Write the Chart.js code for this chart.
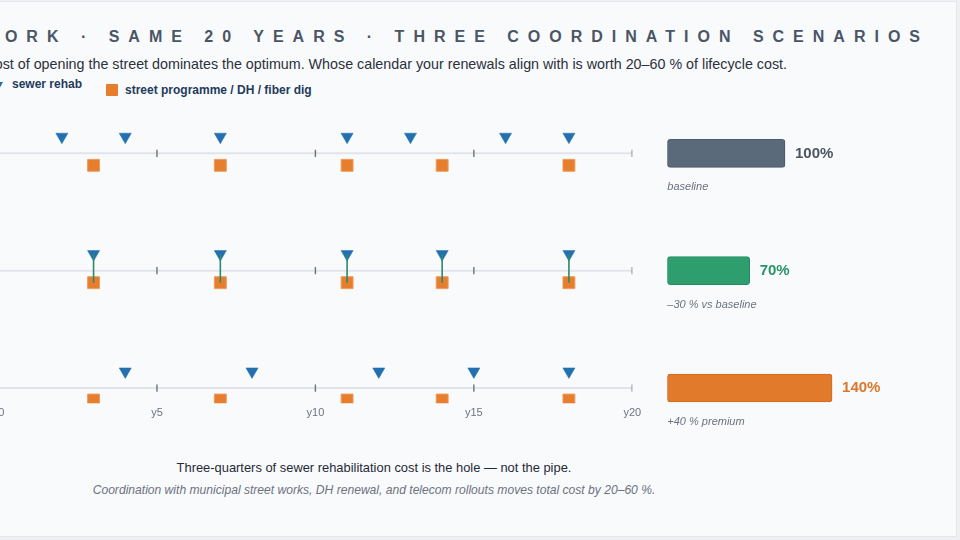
<!DOCTYPE html>
<html>
<head>
<meta charset="utf-8">
<script src="https://cdn.jsdelivr.net/npm/chart.js@4.4.1/dist/chart.umd.min.js"></script>
<style>
  html, body { margin:0; padding:0; }
  body { width:960px; height:540px; overflow:hidden; position:relative; background:#eef0f3;
         font-family:'Liberation Sans', Arial, Helvetica, sans-serif; }
  .card { position:absolute; left:-400px; top:1px; width:1357px; height:536px; background:#f9fafc;
          border:1px solid #e4e7eb; box-sizing:border-box; }
  .txt { position:absolute; white-space:nowrap; }
  #title { right:31px; top:27px; font-size:16px; line-height:20px; font-weight:bold; letter-spacing:9px; color:#4a5565; }
  #sub { right:173px; top:53.5px; font-size:14.3px; line-height:20px; color:#2b313b; }
  .leg { font-size:12px; line-height:16px; font-weight:bold; color:#1f3a5c; }
  #legTri { position:absolute; left:-7.5px; top:82px; width:0; height:0;
            border-left:5.5px solid transparent; border-right:5.5px solid transparent; border-top:9px solid #2370b0; }
  #legSq { position:absolute; left:106px; top:84px; width:12px; height:12px; background:#e67e2e; border-radius:1px; }
  #foot1 { left:-226px; width:1200px; text-align:center; top:460px; font-size:12.9px; line-height:16px; color:#1f2937; }
  #foot2 { left:-226px; width:1200px; text-align:center; top:482px; font-size:12.1px; line-height:16px; font-style:italic; color:#6b7280; }
  #tl { position:absolute; left:-22px; top:100px; width:676px; height:328px; }
  #bars { position:absolute; left:660px; top:90px; width:260px; height:360px; }
</style>
</head>
<body>
<div class="card"></div>
<div class="txt" id="title">ONE NETWORK · SAME 20 YEARS · THREE COORDINATION SCENARIOS</div>
<div class="txt" id="sub">The cost of opening the street dominates the optimum. Whose calendar your renewals align with is worth 20–60 % of lifecycle cost.</div>
<div id="legTri"></div>
<div class="txt leg" style="left:12px; top:76px;">sewer rehab</div>
<div id="legSq"></div>
<div class="txt leg" style="left:125px; top:82px;">street programme / DH / fiber dig</div>
<div class="txt" id="foot1">Three-quarters of sewer rehabilitation cost is the hole — not the pipe.</div>
<div class="txt" id="foot2">Coordination with municipal street works, DH renewal, and telecom rollouts moves total cost by 20–60 %.</div>
<div id="tl"><canvas id="tlc"></canvas></div>
<div id="bars"><canvas id="barc"></canvas></div>
<script>
// ---- data ----
const scenarios = ['baseline', 'coordinated', 'misaligned'];
const axisTicks = [0, 5, 10, 15, 20];
const streetWorks = [3, 7, 11, 14, 18];
const sewerBaseline = [2, 4, 7, 11, 13, 16, 18];
const sewerCoordinated = [3, 7, 11, 14, 18];
const sewerMisaligned = [4, 8, 12, 15, 18];
const costIndex = [100, 70, 140];
const costLabels = ['100%', '70%', '140%'];
const costNotes = ['baseline', '–30 % vs baseline', '+40 % premium'];

// ---- styles ----
const FONT = "'Liberation Sans', Arial, Helvetica, sans-serif";
Chart.defaults.font.family = FONT;
const BLUE = '#2370b0', ORANGE = '#e67e2e', GREEN_LINE = '#2a8a6a';
const barFill = ['#5a6a7b', '#2e9e6e', '#e27a2b'];
const barEdge = ['#4c5a69', '#27895f', '#cf6c22'];
const labelColor = ['#4b5563', '#2a9467', '#dc772a'];
const TRI_OFF = -0.1415, SQ_OFF = 0.1023;

const sewerRows = [sewerBaseline, sewerCoordinated, sewerMisaligned];
const ds = [];
sewerRows.forEach((sewer, r) => {
  ds.push({ data: [{x: axisTicks[0], y: r}, {x: axisTicks[axisTicks.length - 1], y: r}], showLine: true,
            borderColor: '#e1e5ea', borderWidth: 2, pointRadius: 0, order: 10 });
  ds.push({ data: axisTicks.map(x => ({x, y: r})), pointStyle: 'line', pointRotation: 90, pointRadius: 3.6,
            pointBorderColor: '#6b7280', pointBorderWidth: 1.4, order: 9 });
  ds.push({ data: streetWorks.map(x => ({x, y: r + SQ_OFF})), pointStyle: 'rect', pointRadius: 8.4,
            pointBackgroundColor: ORANGE, pointBorderColor: '#ee9a5a', pointBorderWidth: 1, order: 5 });
  ds.push({ data: sewer.map(x => ({x, y: r + TRI_OFF})), pointStyle: 'triangle', pointRotation: 180, pointRadius: 7,
            pointBackgroundColor: BLUE, pointBorderColor: BLUE, pointBorderWidth: 0.5, order: 4 });
});
// connectors where sewer rehab aligns with street works (coordinated scenario)
sewerCoordinated.filter(x => streetWorks.includes(x)).forEach(x => {
  ds.push({ data: [{x, y: 1 + TRI_OFF}, {x, y: 1 + SQ_OFF}], showLine: true, borderColor: GREEN_LINE,
            borderWidth: 1.6, pointRadius: 0, order: 2 });
});

new Chart(document.getElementById('tlc'), {
  type: 'scatter',
  data: { datasets: ds },
  options: {
    responsive: true, maintainAspectRatio: false, animation: false, events: [],
    layout: { padding: { left: 20.5, right: 21.7, top: 18.1, bottom: 0.7 } },
    plugins: { legend: { display: false }, tooltip: { enabled: false } },
    scales: {
      x: { type: 'linear', min: 0, max: 20,
           grid: { display: false, drawTicks: false }, border: { display: false },
           ticks: { stepSize: 5, padding: 3, color: '#6b7280', font: { size: 11 },
                    callback: v => 'y' + v },
           afterFit: s => { s.height = 24; } },
      y: { type: 'linear', reverse: true, min: -0.3, max: 2.13, display: false }
    }
  }
});

const barText = {
  id: 'barText',
  afterDatasetsDraw(chart) {
    const ctx = chart.ctx;
    chart.getDatasetMeta(0).data.forEach((bar, i) => {
      ctx.save();
      ctx.textBaseline = 'middle';
      ctx.textAlign = 'left';
      ctx.font = 'bold 15px ' + FONT;
      ctx.fillStyle = labelColor[i];
      ctx.fillText(costLabels[i], bar.x + 10, bar.y);
      ctx.font = 'italic 11px ' + FONT;
      ctx.fillStyle = '#6b7280';
      ctx.fillText(costNotes[i], bar.base, bar.y + 34);
      ctx.restore();
    });
  }
};

new Chart(document.getElementById('barc'), {
  type: 'bar',
  data: { labels: scenarios,
          datasets: [{ data: costIndex, backgroundColor: barFill, borderColor: barEdge, borderWidth: 1,
                       borderRadius: 3, borderSkipped: false, barThickness: 28 }] },
  options: {
    indexAxis: 'y', responsive: true, maintainAspectRatio: false, animation: false, events: [],
    layout: { padding: { left: 7.3, right: 17.3, top: 4.7, bottom: 3.3 } },
    plugins: { legend: { display: false }, tooltip: { enabled: false } },
    scales: { x: { min: 0, max: 200, display: false }, y: { display: false } }
  },
  plugins: [barText]
});
</script>
</body>
</html>
